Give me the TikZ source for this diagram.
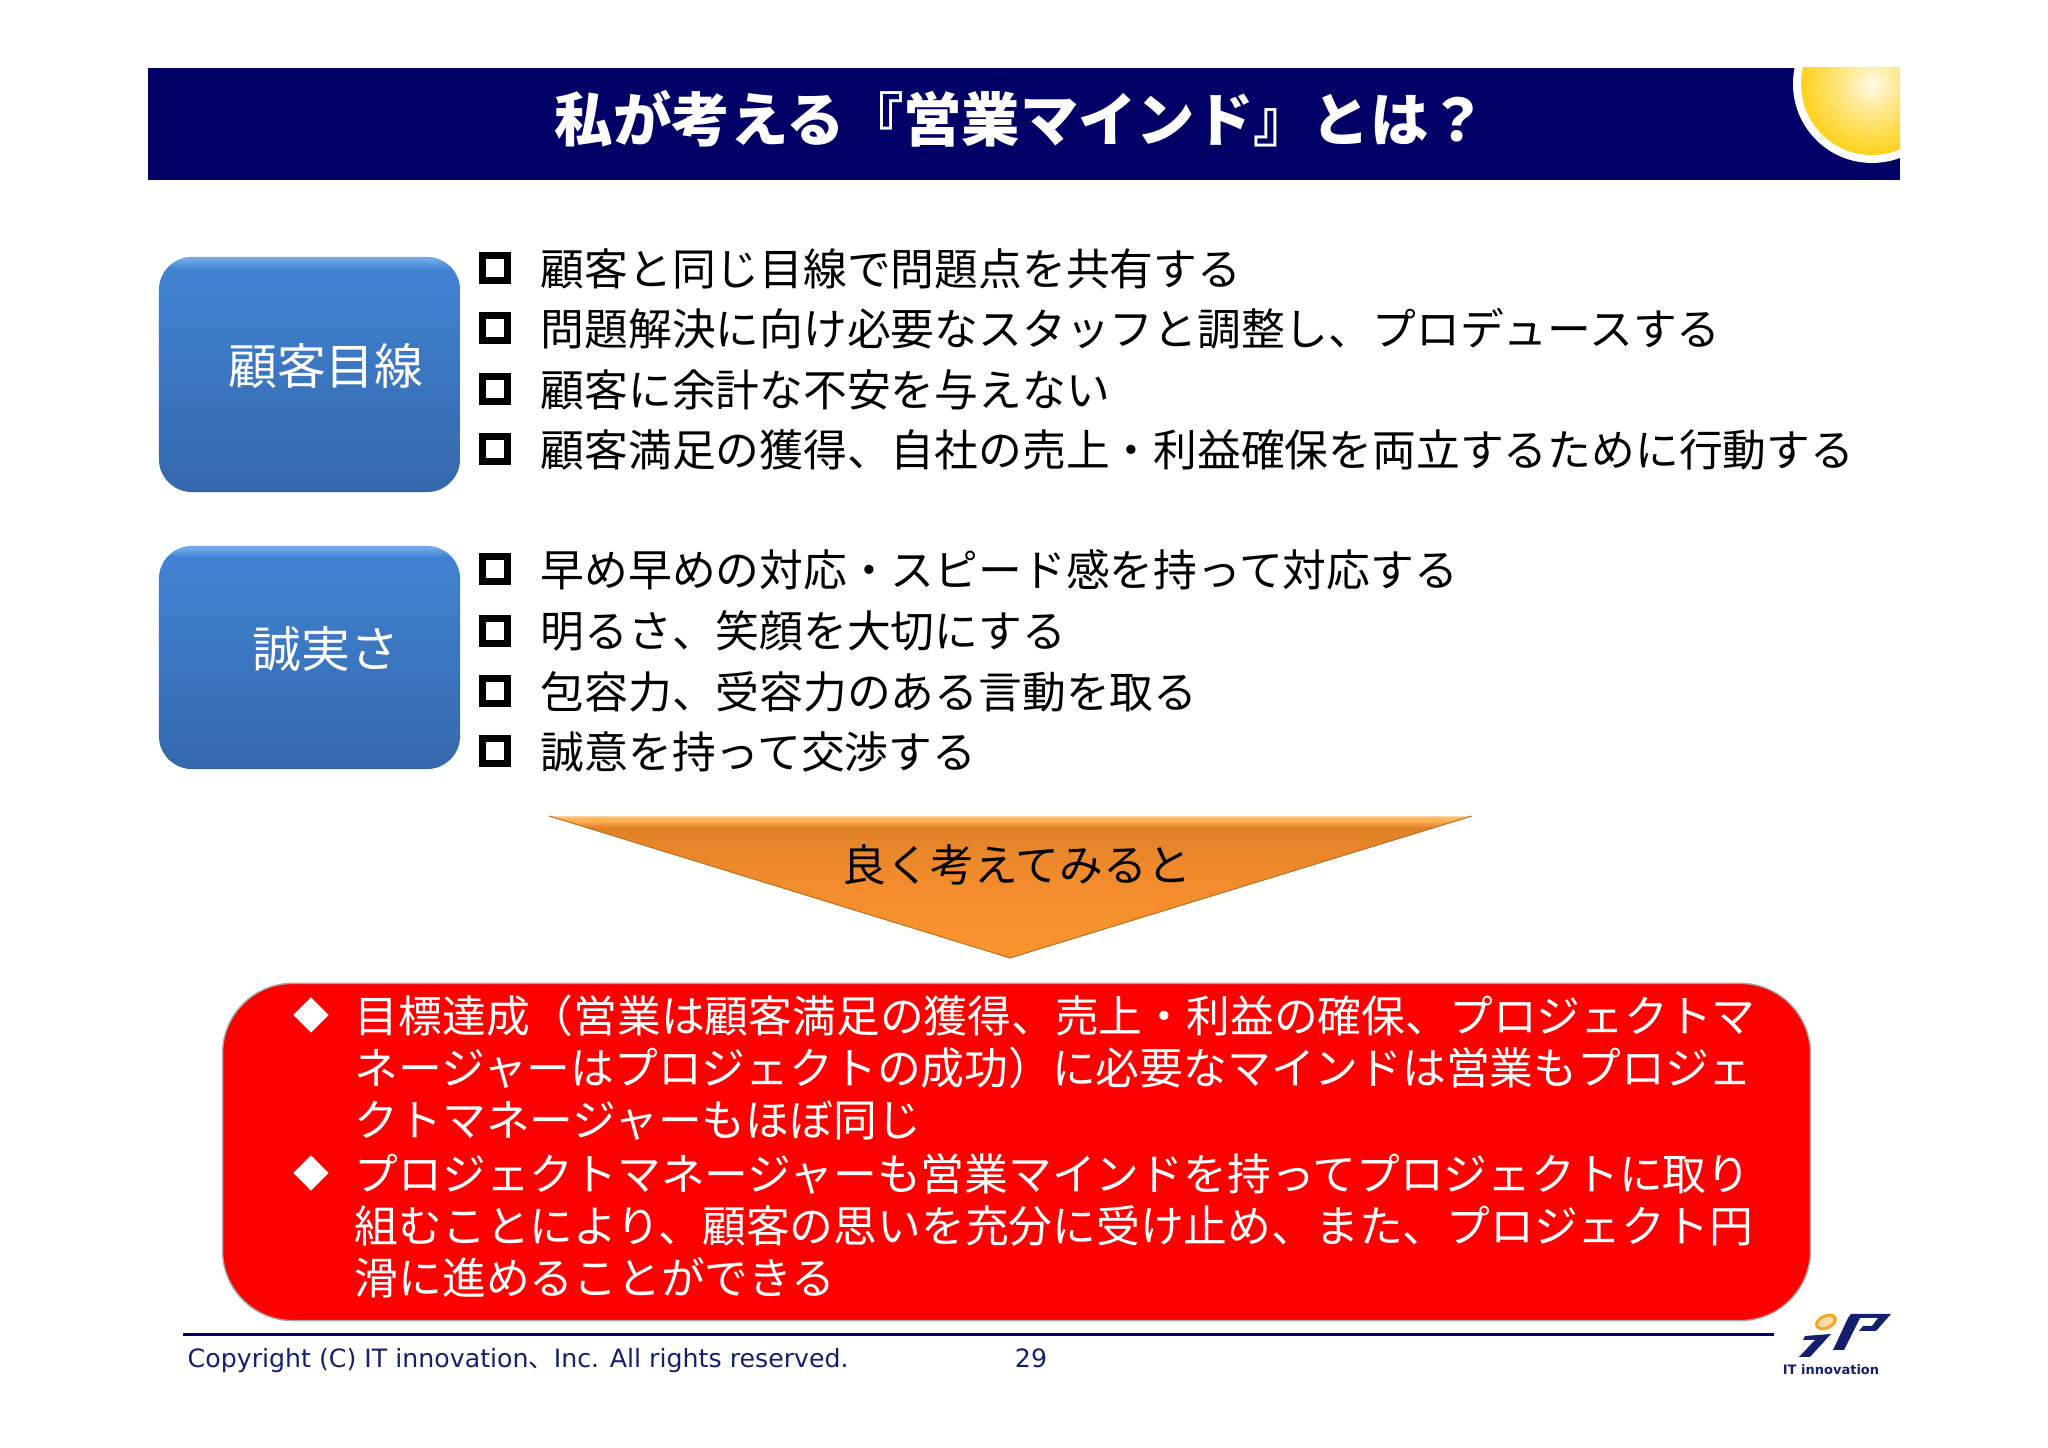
\documentclass[tikz,border=0pt]{standalone}
\usepackage{fontspec}
\setmainfont{Noto Sans CJK JP}
\newfontfamily\latin{DejaVu Sans}
\usetikzlibrary{shapes.geometric}

\definecolor{barnavy}{HTML}{000066}
\definecolor{footnavy}{HTML}{14206E}
\definecolor{sunin}{HTML}{FFFBE8}
\definecolor{sunmid}{HTML}{FFE88A}
\definecolor{sunout}{HTML}{FFD322}
\definecolor{ringorange}{HTML}{F5A623}
\definecolor{blueedge}{HTML}{2F5F9E}
\definecolor{bluelow}{HTML}{3568AC}
\definecolor{bluetop}{HTML}{4083D2}
\definecolor{bluerim}{HTML}{6FA8E8}
\definecolor{orangea}{HTML}{FB9630}
\definecolor{orangeb}{HTML}{F08A2C}
\definecolor{orangec}{HTML}{E08228}
\definecolor{oranged}{HTML}{FFB455}
\definecolor{orangee}{HTML}{F6D6A6}

\pgfdeclareradialshading{sunglow}{\pgfpoint{0bp}{0bp}}{color(0bp)=(sunin); color(10bp)=(sunmid); color(24bp)=(sunout); color(50bp)=(sunout)}
\pgfdeclareverticalshading{boxblue}{100bp}{color(0bp)=(blueedge); color(25bp)=(blueedge); color(25.5bp)=(bluelow); color(72.5bp)=(bluetop); color(74.5bp)=(bluerim); color(100bp)=(bluerim)}
\pgfdeclareverticalshading{triorange}{100bp}{color(0bp)=(orangea); color(25bp)=(orangea); color(55bp)=(orangeb); color(71bp)=(orangec); color(73.5bp)=(oranged); color(74.25bp)=(oranged); color(75bp)=(orangee); color(100bp)=(orangee)}

\tikzset{
  line/.style={anchor=west,inner sep=0,font=\fontsize{12.45}{14}\selectfont,text height=1em,text depth=0em},
  redline/.style={line,text=white},
  tick/.style={draw=black,line width=0.07cm,inner sep=0,outer sep=0,minimum size=0.25cm},
  rhomb/.style={diamond,fill=white,inner sep=0,minimum size=0.36cm},
  bluebox/.style={rectangle,shading=boxblue,rounded corners=0.33cm,inner sep=0,minimum width=3.01cm},
  boxtext/.style={inner sep=0,text=white,font=\fontsize{13.9}{16}\selectfont},
  foot/.style={inner sep=0,text=footnavy,font=\fontsize{7.18}{9}\selectfont},
}

\begin{document}
\begin{tikzpicture}
  \pgfmathsetmacro{\a}{0.01}
  \useasboundingbox (0,0) rectangle (2048*\a,1448*\a);

  % title bar
  \fill[barnavy] (148*\a,1268*\a) rectangle (1900*\a,1380*\a);
  \begin{scope}
    \clip (148*\a,1268*\a) rectangle (1900*\a,1380*\a);
    \fill[white] (1872*\a,1364*\a) circle (79*\a);
    \shade[shading=sunglow] (1872*\a,1364*\a) circle (71*\a);
  \end{scope}
  \node[inner sep=0,text=white,font=\fontsize{16.6}{18}\bfseries\selectfont] (title) at (1021*\a,1329*\a) {私が考える『営業マインド』とは？};

  % the two blue boxes
  \node[bluebox,minimum height=2.35cm] (eye) at (309.5*\a,1073.5*\a) {};
  \node[bluebox,minimum height=2.23cm] (honest) at (309.5*\a,790.5*\a) {};
  \node[boxtext] (eyetext) at (326*\a,1082*\a) {顧客目線};
  \node[boxtext] (honesttext) at (326*\a,799*\a) {誠実さ};

  \foreach \y in {1180,1120,1059,999,879,817,757,697}{
    \node[tick] (tick\y) at (495*\a,\y*\a) {};
  }
  \node[line] (eye1) at (540*\a,1180*\a) {顧客と同じ目線で問題点を共有する};
  \node[line] (eye2) at (540*\a,1120*\a) {問題解決に向け必要なスタッフと調整し、プロデュースする};
  \node[line] (eye3) at (540*\a,1059*\a) {顧客に余計な不安を与えない};
  \node[line] (eye4) at (540*\a,999*\a) {顧客満足の獲得、自社の売上・利益確保を両立するために行動する};

  \node[line] (honest1) at (540*\a,879*\a) {早め早めの対応・スピード感を持って対応する};
  \node[line] (honest2) at (540*\a,818*\a) {明るさ、笑顔を大切にする};
  \node[line] (honest3) at (540*\a,757*\a) {包容力、受容力のある言動を取る};
  \node[line] (honest4) at (540*\a,697*\a) {誠意を持って交渉する};

  % orange triangle
  \shade[shading=triorange] (549*\a,632*\a) -- (1472*\a,632*\a) -- (1010*\a,490*\a) -- cycle;
  \draw[orangec!85!black,line width=0.01cm] (549*\a,632*\a) -- (1010*\a,490*\a) -- (1472*\a,632*\a);
  \node[line,anchor=center] (think) at (1017*\a,584*\a) {良く考えてみると};

  % red box
  \node[rectangle,draw=black!35,fill=red,rounded corners=0.7cm,inner sep=0,minimum width=15.87cm,minimum height=3.37cm] (redbox) at (1016.5*\a,296*\a) {};
  \node[rhomb] (rhomb1) at (311*\a,433*\a) {};
  \node[rhomb] (rhomb2) at (311*\a,275*\a) {};
  \node[redline] (red1) at (354*\a,433*\a) {目標達成（営業は顧客満足の獲得、売上・利益の確保、プロジェクトマ};
  \node[redline] (red2) at (354*\a,381*\a) {ネージャーはプロジェクトの成功）に必要なマインドは営業もプロジェ};
  \node[redline] (red3) at (354*\a,329*\a) {クトマネージャーもほぼ同じ};
  \node[redline] (red4) at (354*\a,275*\a) {プロジェクトマネージャーも営業マインドを持ってプロジェクトに取り};
  \node[redline] (red5) at (354*\a,223*\a) {組むことにより、顧客の思いを充分に受け止め、また、プロジェクト円};
  \node[redline] (red6) at (354*\a,171*\a) {滑に進めることができる};

  % footer
  \draw[barnavy,line width=0.03cm] (183*\a,113.5*\a) -- (1774*\a,113.5*\a);
  \node[foot,anchor=west] (copy) at (187*\a,87*\a) {\latin Copyright (C) IT innovation{\rmfamily 、}Inc. All rights reserved.};
  \node[foot] (page) at (1031*\a,90*\a) {\latin 29};

  % logo
  \fill[footnavy] (1805*\a,112*\a) -- (1831*\a,114*\a) -- (1810*\a,91*\a) -- (1799*\a,91*\a) -- (1815*\a,108*\a) -- (1803*\a,108*\a) -- cycle;
  \fill[footnavy] (1851*\a,134*\a) -- (1891*\a,134*\a) -- (1876*\a,117*\a) -- (1859*\a,117*\a) -- (1863*\a,122*\a) -- (1872*\a,122*\a) -- (1878*\a,130*\a) -- (1860*\a,130*\a) -- (1844*\a,98*\a) -- (1833*\a,98*\a) -- (1848*\a,130*\a) -- cycle;
  \draw[ringorange,line width=0.03cm,fill=ringorange!40,rotate around={25:(1826*\a,126*\a)}] (1826*\a,126*\a) ellipse (10*\a cm and 6*\a cm);
  \node[inner sep=0,text=footnavy,font=\fontsize{3.7}{5}\bfseries\selectfont] (logotext) at (1831*\a,78*\a) {\latin IT innovation};
\end{tikzpicture}
\end{document}
